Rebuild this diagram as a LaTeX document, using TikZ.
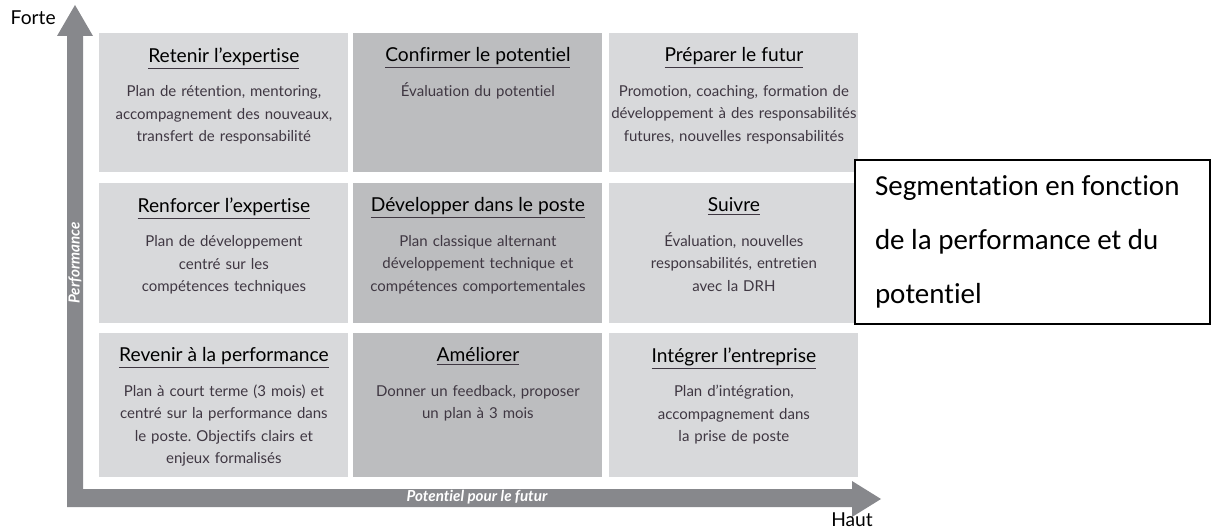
\documentclass[tikz,border=0pt]{standalone}
\usepackage{fontspec}
\setmainfont{Lato}[Ligatures={TeX,NoCommon}]
\newfontfamily\calibri{Carlito}[Ligatures={NoCommon}]
\usepackage{tikz}
\frenchspacing

\definecolor{axisgray}{HTML}{87888C}
\definecolor{lightcell}{HTML}{D8D9DB}
\definecolor{darkcell}{HTML}{BCBDBF}
\definecolor{bodytext}{HTML}{3F3742}

\tikzset{
  cellA/.style={anchor=north west, fill=lightcell, minimum width=124.5pt, inner sep=0pt},
  cellB/.style={cellA, fill=darkcell},
  txt/.style={anchor=north, yshift=-7pt, align=center, text width=132pt, inner sep=0pt,
    text=bodytext, font=\fontsize{7.5}{11.3}\selectfont},
  axislabel/.style={text=white, font=\bfseries\itshape\fontsize{7.6}{8}\selectfont, inner sep=0pt},
  endlabel/.style={font=\fontsize{9.6}{10}\selectfont, inner sep=0pt}
}
\newcommand{\celltitle}[1]{{\fontsize{9.6}{12}\selectfont\underline{\textcolor{black}{#1}}}\\[6pt]}

\begin{document}
\begin{tikzpicture}[x=0.5pt,y=-0.5pt]
    \useasboundingbox (0,0) rectangle (1216,529);
    % axes
    \fill[axisgray] (67,507) -- (67,36) -- (57,36) -- (75,5) -- (93,36) -- (83,36)
      -- (83,489) -- (852,489) -- (852,481) -- (881,499) -- (852,517) -- (852,507) -- cycle;
    \node[endlabel, anchor=east] (forte) at (56,18) {Forte};
    \node[endlabel] (haut) at (852,520) {Haut};
    \node[axislabel, rotate=90] (perf) at (75,263) {Performance};
    \node[axislabel] (pot) at (477,497) {Potentiel pour le futur};
    % cells
    \foreach \c/\x/\f in {1/99/cellA,2/353/cellB,3/609/cellA}{
      \foreach \r/\y/\h in {1/33/139,2/183/140,3/333/144}{
        \node[\f, minimum height=\h*0.5pt] (c\r\c) at (\x,\y) {};
      }
    }
    \node[txt] (t11) at (c11.north) {\celltitle{Retenir l’expertise}
      Plan de rétention, mentoring,\\accompagnement des nouveaux,\\transfert de responsabilité};
    \node[txt] (t12) at (c12.north) {\celltitle{Confirmer le potentiel}
      Évaluation du potentiel};
    \node[txt] (t13) at (c13.north) {\celltitle{Préparer le futur}
      Promotion, coaching, formation de\\développement à des responsabilités\\futures, nouvelles responsabilités};
    \node[txt] (t21) at (c21.north) {\celltitle{Renforcer l’expertise}
      Plan de développement\\centré sur les\\compétences techniques};
    \node[txt] (t22) at (c22.north) {\celltitle{Développer dans le poste}
      Plan classique alternant\\développement technique et\\compétences comportementales};
    \node[txt] (t23) at (c23.north) {\celltitle{Suivre}
      Évaluation, nouvelles\\responsabilités, entretien\\avec la DRH};
    \node[txt] (t31) at (c31.north) {\celltitle{Revenir à la performance}
      Plan à court terme (3 mois) et\\centré sur la performance dans\\le poste. Objectifs clairs et\\enjeux formalisés};
    \node[txt] (t32) at (c32.north) {\celltitle{Améliorer}
      Donner un feedback, proposer\\un plan à 3 mois};
    \node[txt] (t33) at (c33.north) {\celltitle{Intégrer l’entreprise}
      Plan d’intégration,\\accompagnement dans\\la prise de poste};
    % legend box
    \node[draw, line width=1pt, fill=white, minimum width=177.5pt, minimum height=82pt,
      inner xsep=10pt, text width=157.5pt, align=flush left,
      font=\calibri\fontsize{14.5}{27}\selectfont] (seg) at (1032.5,242)
      {Segmentation en fonction\\de la performance et du\\potentiel};
\end{tikzpicture}
\end{document}
